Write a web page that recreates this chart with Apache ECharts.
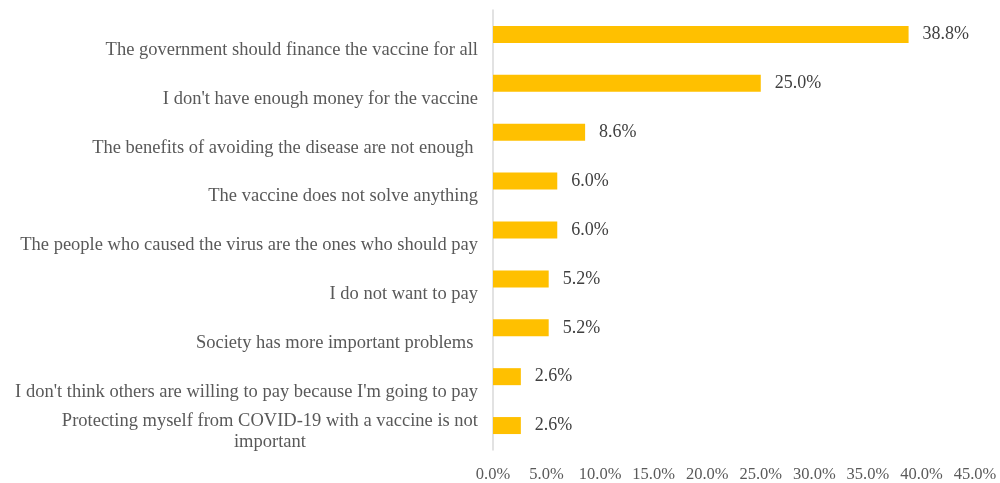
<!DOCTYPE html>
<html>
<head>
<meta charset="utf-8">
<script src="https://cdn.jsdelivr.net/npm/echarts@6/dist/echarts.min.js"></script>
<style>html,body{margin:0;padding:0;background:#fff}#c{width:1000px;height:483px}</style>
</head>
<body>
<div id="c"></div>
<script>
const categories = [
  "The government should finance the vaccine for all",
  "I don't have enough money for the vaccine",
  "The benefits of avoiding the disease are not enough ",
  "The vaccine does not solve anything",
  "The people who caused the virus are the ones who should pay",
  "I do not want to pay",
  "Society has more important problems ",
  "I don't think others are willing to pay because I'm going to pay",
  "Protecting myself from COVID-19 with a vaccine is not\nimportant"
];
const values = [38.8, 25.0, 8.6, 6.0, 6.0, 5.2, 5.2, 2.6, 2.6];
const xTicks = [0, 5, 10, 15, 20, 25, 30, 35, 40, 45];

const font = "'Liberation Serif', 'Times New Roman', serif";
const chart = echarts.init(document.getElementById('c'));
chart.setOption({
  animation: false,
  grid: { left: 493, right: 25, top: 10, bottom: 30, containLabel: false },
  xAxis: {
    type: 'value', min: xTicks[0], max: xTicks[xTicks.length - 1], interval: 5,
    axisLine: { show: false }, axisTick: { show: false }, splitLine: { show: false },
    axisLabel: { formatter: v => v.toFixed(1) + '%', fontFamily: font, fontSize: 16.5, color: '#595959', margin: 16 }
  },
  yAxis: {
    type: 'category', inverse: true,
    data: categories.map((c, i) => ({
      value: c,
      textStyle: { padding: i === categories.length - 1 ? [12, 0, 0, 0] : [31, 0, 0, 0] }
    })),
    axisLine: { show: true, lineStyle: { color: '#d9d9d9', width: 1.5 } },
    axisTick: { show: false },
    axisLabel: {
      margin: 15, fontFamily: font, fontSize: 18.5, color: '#595959',
      formatter: v => '{a|' + v + '}',
      rich: { a: { align: 'center', fontFamily: font, fontSize: 18.5, color: '#595959', lineHeight: 21 } }
    }
  },
  series: [{
    type: 'bar', data: values, barWidth: 17,
    itemStyle: { color: '#FFC000' },
    label: { show: true, position: 'right', distance: 14, formatter: p => p.value.toFixed(1) + '%', fontFamily: font, fontSize: 18, color: '#404040' }
  }]
});
</script>
</body>
</html>
